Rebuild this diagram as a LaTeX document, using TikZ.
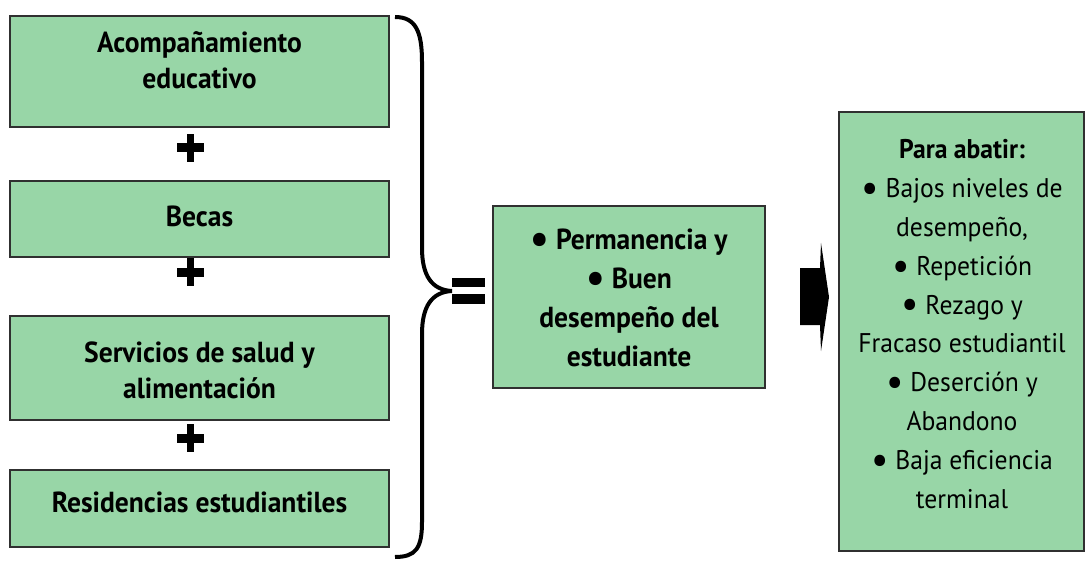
\documentclass[tikz,border=0pt]{standalone}
\usepackage{fontspec}
\setmainfont{PT Sans}[FakeStretch=0.95]
\definecolor{boxgreen}{HTML}{98D6A7}
\definecolor{boxedge}{HTML}{303030}
\newcommand\bul{\raisebox{-0.14em}{\scalebox{1.5}{\textbullet}}}
\tikzset{
  gbox/.style={draw=boxedge, line width=2pt, fill=boxgreen, inner sep=0pt},
  btxt/.style={font=\fontsize{29}{36}\selectfont\bfseries, align=center},
  mtxt/.style={font=\fontsize{29}{39}\selectfont\bfseries, align=center},
  rtxt/.style={font=\fontsize{27}{38.8}\selectfont, align=center},
  plussign/.pic={\fill (-13.5,-4.5) rectangle (13.5,4.5); \fill (-3.5,-14) rectangle (3.5,14);},
}
\begin{document}
\begin{tikzpicture}[x=1pt,y=-1pt]
\useasboundingbox (0,0) rectangle (1086,561);
% left boxes
\draw[gbox] (10,16) rectangle (389,127);
\node[btxt] (b1) at (199.5,60) {Acompañamiento\\educativo};
\draw[gbox] (10,181) rectangle (389,257);
\node[btxt] (b2) at (199.5,216) {Becas};
\draw[gbox] (10,316) rectangle (389,420);
\node[btxt] (b3) at (199.5,370) {Servicios de salud y\\alimentación};
\draw[gbox] (10,470) rectangle (389,547);
\node[btxt] (b4) at (199.5,502) {Residencias estudiantiles};
% plus signs
\coordinate (p1) at (190,148);
\coordinate (p2) at (190,272);
\coordinate (p3) at (190,438);
\pic at (p1) {plussign};
\pic at (p2) {plussign};
\pic at (p3) {plussign};
% brace
\coordinate (bt) at (395,17);
\coordinate (tip) at (452,291);
\coordinate (bb) at (395,557);
\draw[line width=4pt] (bt) .. controls (416,17) and (422,32) .. (422,62) -- (422,248)
  .. controls (422,276) and (432,290) .. (tip)
  .. controls (432,292) and (422,306) .. (422,334) -- (422,522)
  .. controls (422,548) and (416,557) .. (bb);
% equals sign
\fill (452,278) rectangle (485,287);
\fill (452,294) rectangle (485,304);
% middle box
\draw[gbox] (493,206) rectangle (765,388);
\node[mtxt] (mid) at (629,298) {\bul{} Permanencia y\\\bul{} Buen\\desempeño del\\estudiante};
% arrow
\fill (800,268) -- (820,268) -- (821,243) -- (829,297) -- (821,351) -- (820,325) -- (800,325) -- cycle;
% right box
\draw[gbox] (839,112) rectangle (1084,551);
\node[rtxt] (r) at (962,324) {\textbf{Para abatir:}\\\bul{} Bajos niveles de\\desempeño,\\\bul{} Repetición\\\bul{} Rezago y\\Fracaso estudiantil\\\bul{} Deserción y\\Abandono\\\bul{} Baja eficiencia\\terminal};
\end{tikzpicture}
\end{document}
